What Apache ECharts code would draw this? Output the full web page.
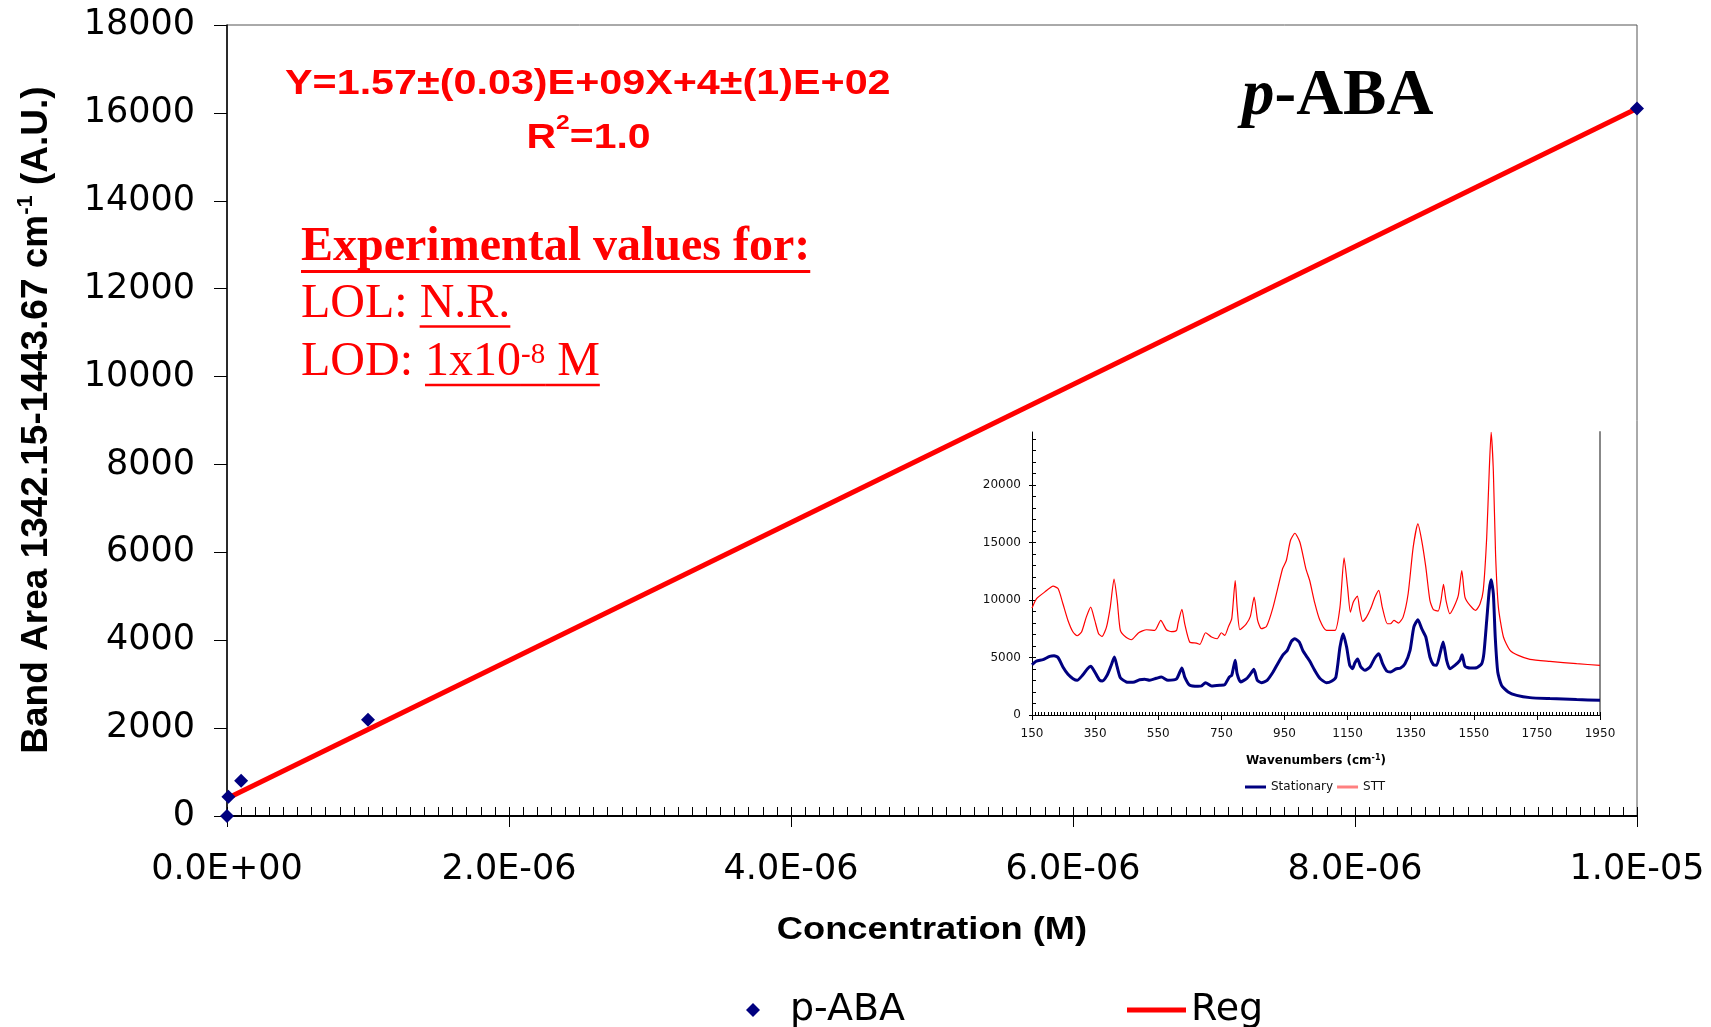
<!DOCTYPE html>
<html><head><meta charset="utf-8">
<script src="https://cdn.jsdelivr.net/npm/echarts@6/dist/echarts.min.js"></script>
<style>html,body{margin:0;padding:0;background:#fff}#c{width:1711px;height:1027px}</style>
</head><body><div id="c"></div>
<script>
// ---------- DATA ----------
const concentration = [0, 1e-8, 1e-7, 1e-6, 1e-5];
const bandArea = [0, 440, 800, 2190, 16100];
const regX = [0, 1e-5];
const regY = [400, 16100];

const insetXTicks = [150, 350, 550, 750, 950, 1150, 1350, 1550, 1750, 1950];
const insetYTicks = [0, 5000, 10000, 15000, 20000];

const stationaryWn = [150,164,185,206,220,233,248,264,280,293,310,326,336,349,363,373,388,401,411,420,430,449,470,491,507,523,544,560,581,608,625,634,650,676,687,700,719,745,761,775,783,794,800,811,830,843,853,864,877,895,914,930,946,959,972,983,997,1009,1020,1030,1046,1062,1083,1099,1113,1126,1136,1147,1157,1166,1173,1182,1191,1205,1221,1237,1249,1261,1274,1286,1303,1318,1332,1348,1360,1373,1385,1398,1411,1422,1432,1443,1453,1464,1474,1490,1506,1513,1522,1538,1559,1575,1582,1591,1599,1605,1612,1618,1626,1638,1659,1686,1728,1791,1876,1950];
const stationaryVal = [4370,4690,4810,5100,5155,4980,4170,3535,3160,3015,3450,4030,4230,3740,3070,2955,3450,4320,5040,4170,3245,2870,2840,3070,3100,3015,3190,3300,3015,3130,4090,3300,2580,2495,2520,2810,2520,2580,2640,3300,3450,4750,3590,2870,3160,3590,3970,3015,2810,3015,3740,4520,5240,5620,6400,6630,6340,5560,5100,4690,3880,3200,2810,2930,3300,5910,7065,5910,4320,4030,4520,4870,4230,3880,4170,4980,5330,4460,3825,3740,4000,4085,4460,5620,7640,8280,7500,6780,5040,4370,4320,5330,6340,4750,4030,4320,4750,5240,4230,4085,4110,4460,5330,8220,10830,11750,10540,6780,3740,2580,2000,1710,1510,1425,1340,1280];

const sttWn = [150,164,190,217,233,248,264,280,293,307,322,336,349,361,372,386,398,410,420,430,447,465,488,513,539,558,576,592,608,613,625,634,650,671,682,700,719,737,750,761,772,783,794,800,809,828,842,854,865,877,893,914,944,956,969,983,999,1018,1030,1046,1062,1083,1110,1126,1139,1150,1159,1168,1181,1189,1198,1210,1223,1237,1249,1260,1276,1286,1297,1311,1326,1342,1358,1373,1385,1398,1411,1422,1437,1446,1454,1462,1474,1487,1501,1512,1522,1538,1556,1570,1580,1591,1599,1605,1612,1619,1628,1644,1665,1691,1728,1791,1876,1950];
const sttVal = [9290,10100,10680,11200,10970,9670,8220,7210,6890,7210,8510,9380,8220,7065,6830,7640,9380,11810,9960,7350,6775,6540,7150,7410,7350,8220,7410,7240,7350,7990,9180,7930,6340,6255,6140,7150,6775,6630,7150,6920,7640,8370,11690,9380,7410,7875,8570,10250,8220,7500,7700,9380,12710,13430,15165,15800,15020,12710,11690,9740,8250,7350,7350,9380,13660,11110,8940,9810,10330,9090,8135,8510,9235,10250,10830,9380,7930,7930,8220,7990,8510,10540,14590,16610,15165,12850,9960,9150,9030,9960,11350,9960,8800,9380,10390,12560,10250,9520,9090,9670,10830,15455,21240,24570,21240,14010,9380,6780,5620,5180,4840,4660,4460,4320];

// ---------- helpers ----------
const ctx = document.createElement('canvas').getContext('2d');
function fontStr(p){ return (p.italic?'italic ':'') + (p.bold?'bold ':'') + p.size + 'px "' + p.family + '"'; }
function tw(p){ ctx.font = fontStr(p); return ctx.measureText(p.t).width; }
function textRun(o){
  const color = o.color || '#000';
  const widths = o.parts.map(tw);
  const total = widths.reduce((a,b)=>a+b,0);
  let cx = o.align === 'center' ? -total/2 : 0;
  const children = [];
  o.parts.forEach((p,i)=>{
    const f = fontStr(p);
    children.push({type:'text', x:cx, y:-(p.rise||0) - 0.34*p.size,
      style:{text:p.t, font:f, fill:color, align:'left', verticalAlign:'middle', textAlign:'left', textVerticalAlign:'middle'}});
    if (p.ul) children.push({type:'line', shape:{x1:cx, y1:o.ulY, x2:cx+widths[i], y2:o.ulY},
      style:{stroke:color, lineWidth:o.ulW||2.5}});
    cx += widths[i];
  });
  return {type:'group', x:o.x, y:o.y, scaleX:o.scaleX||1, rotation:o.rotation||0, children, silent:true};
}
function sciFmt(v){
  if (v === 0) return '0.0E+00';
  let e = Math.floor(Math.log10(Math.abs(v)) + 1e-9);
  let m = v / Math.pow(10, e);
  if (Math.round(m*10)/10 >= 10) { m /= 10; e += 1; }
  const es = (e < 0 ? '-' : '+') + String(Math.abs(e)).padStart(2,'0');
  return m.toFixed(1) + 'E' + es;
}
const plainFmt = v => String(Math.round(v));
const minorInsetX = []; for (let v = 150; v <= 1950; v += 10) minorInsetX.push(v);
const minorInsetY = []; for (let v = 0; v <= 24000; v += 1000) minorInsetY.push(v);

const SANS = 'Liberation Sans', SERIF = 'Liberation Serif', DJ = 'DejaVu Sans';
const RED = '#ff0000';

const graphics = [
  textRun({x:285, y:96.7, scaleX:1.18, color:RED, parts:[{t:'Y=1.57\u00b1(0.03)E+09X+4\u00b1(1)E+02', size:35, bold:true, family:SANS}]}),
  textRun({x:526.5, y:150, scaleX:1.17, color:RED, parts:[
    {t:'R', size:35, bold:true, family:SANS},
    {t:'2', size:21, bold:true, family:SANS, rise:20},
    {t:'=1.0', size:35, bold:true, family:SANS}]}),
  textRun({x:301, y:264, color:RED, ulY:7.5, ulW:3, parts:[{t:'Experimental values for:', size:48, bold:true, family:SERIF, ul:true}]}),
  textRun({x:301, y:321, color:RED, ulY:5.5, ulW:2.5, parts:[
    {t:'LOL: ', size:48, family:SERIF},
    {t:'N.R.', size:48, family:SERIF, ul:true}]}),
  textRun({x:301, y:379, color:RED, ulY:6, ulW:2.5, parts:[
    {t:'LOD: ', size:48, family:SERIF},
    {t:'1x10', size:48, family:SERIF, ul:true},
    {t:'-8', size:29, family:SERIF, rise:14, ul:true},
    {t:' M', size:48, family:SERIF, ul:true}]}),
  textRun({x:1242, y:119, parts:[
    {t:'p', size:65, bold:true, italic:true, family:SERIF},
    {t:'-ABA', size:65, bold:true, family:SERIF}]}),
  textRun({x:49, y:420, rotation:Math.PI/2, align:'center', parts:[
    {t:'Band Area 1342.15-1443.67 cm', size:37, bold:true, family:SANS},
    {t:'-1', size:22, bold:true, family:SANS, rise:16},
    {t:' (A.U.)', size:37, bold:true, family:SANS}]}),
  textRun({x:932, y:941, scaleX:1.17, align:'center', parts:[{t:'Concentration (M)', size:31, bold:true, family:SANS}]}),
  textRun({x:1316, y:765.4, align:'center', parts:[
    {t:'Wavenumbers (cm', size:12, bold:true, family:DJ},
    {t:'-1', size:8, bold:true, family:DJ, rise:5},
    {t:')', size:12, bold:true, family:DJ}]})
];

const chart = echarts.init(document.getElementById('c'), null, {renderer:'canvas'});
chart.setOption({
  animation:false,
  backgroundColor:'#ffffff',
  grid:[
    {left:227, top:25, width:1410, height:791, show:true, borderColor:'#555', borderWidth:1, backgroundColor:'transparent', outerBoundsMode:'none', containLabel:false},
    {left:1032, top:432, width:568, height:283, outerBoundsMode:'none', containLabel:false}
  ],
  xAxis:[
    {gridIndex:0, type:'value', min:0, max:1e-5, interval:2e-6, position:'bottom',
      axisLine:{show:true, onZero:false, lineStyle:{color:'#000', width:2}},
      axisTick:{show:true, length:11, lineStyle:{color:'#000', width:1}},
      axisLabel:{show:true, formatter:sciFmt, fontFamily:DJ, fontSize:35, color:'#000', margin:36},
      splitLine:{show:false}},
    {gridIndex:0, type:'value', min:0, max:1e-5, interval:1e-7, position:'bottom',
      axisLine:{show:false, onZero:false}, axisTick:{show:true, inside:true, length:9, lineStyle:{color:'#000', width:1}},
      axisLabel:{show:false}, splitLine:{show:false}},
    {gridIndex:1, type:'value', min:150, max:1950, position:'bottom',
      axisLine:{show:true, onZero:false, lineStyle:{color:'#000', width:1}},
      axisTick:{show:true, length:5, customValues:insetXTicks, lineStyle:{color:'#000'}},
      axisLabel:{show:true, customValues:insetXTicks, formatter:plainFmt, fontFamily:DJ, fontSize:12, color:'#111', margin:13},
      splitLine:{show:false}},
    {gridIndex:1, type:'value', min:150, max:1950, position:'bottom',
      axisLine:{show:false, onZero:false}, axisTick:{show:true, inside:true, length:3, customValues:minorInsetX, lineStyle:{color:'#000'}},
      axisLabel:{show:false}, splitLine:{show:false}}
  ],
  yAxis:[
    {gridIndex:0, type:'value', min:0, max:18000, interval:2000, position:'left',
      axisLine:{show:true, onZero:false, lineStyle:{color:'#000', width:1.5}},
      axisTick:{show:true, length:13, lineStyle:{color:'#000', width:1}},
      axisLabel:{show:true, formatter:plainFmt, fontFamily:DJ, fontSize:35, color:'#000', margin:32},
      splitLine:{show:false}},
    {gridIndex:1, type:'value', min:0, max:24600, position:'left',
      axisLine:{show:true, onZero:false, lineStyle:{color:'#000', width:1}},
      axisTick:{show:true, length:3, customValues:insetYTicks, lineStyle:{color:'#000'}},
      axisLabel:{show:true, customValues:insetYTicks, formatter:plainFmt, fontFamily:DJ, fontSize:12, color:'#111', margin:11},
      splitLine:{show:false}},
    {gridIndex:1, type:'value', min:0, max:24600, position:'left',
      axisLine:{show:false, onZero:false}, axisTick:{show:true, inside:true, length:4, customValues:minorInsetY, lineStyle:{color:'#000'}},
      axisLabel:{show:false}, splitLine:{show:false}},
    {gridIndex:1, type:'value', min:0, max:24600, position:'right',
      axisLine:{show:true, onZero:false, lineStyle:{color:'#888', width:2}}, axisTick:{show:false},
      axisLabel:{show:false}, splitLine:{show:false}}
  ],
  legend:[
    {data:[{name:'p-ABA', icon:'diamond'}], left:746, top:991, itemWidth:14, itemHeight:14, itemGap:0, padding:0,
      selectedMode:false, textStyle:{fontFamily:DJ, fontSize:38, color:'#000', padding:[0,0,0,25]}},
    {data:[{name:'Reg', icon:'rect'}], left:1127, top:991, itemWidth:59, itemHeight:5, itemGap:0, padding:0,
      selectedMode:false, textStyle:{fontFamily:DJ, fontSize:38, color:'#000'}},
    {data:[{name:'Stationary', icon:'rect', itemStyle:{color:'#000080'}}, {name:'STT', icon:'rect', itemStyle:{color:'#ff8080'}}],
      left:1245, top:781, itemWidth:21, itemHeight:3, itemGap:4, padding:0,
      selectedMode:false, textStyle:{fontFamily:DJ, fontSize:12, color:'#111'}}
  ],
  series:[
    {type:'line', name:'Reg', xAxisIndex:0, yAxisIndex:0, data:regX.map((x,i)=>[x, regY[i]]),
      symbol:'none', showSymbol:false, lineStyle:{color:RED, width:5}, itemStyle:{color:RED}, z:2, silent:true},
    {type:'scatter', name:'p-ABA', xAxisIndex:0, yAxisIndex:0, data:concentration.map((x,i)=>[x, bandArea[i]]),
      symbol:'diamond', symbolSize:14, itemStyle:{color:'#000080', opacity:1}, z:3, silent:true},
    {type:'line', name:'STT', xAxisIndex:2, yAxisIndex:1, data:sttWn.map((x,i)=>[x, sttVal[i]]),
      symbol:'none', showSymbol:false, smooth:0.2, lineStyle:{color:RED, width:1.2}, itemStyle:{color:RED}, z:2, silent:true},
    {type:'line', name:'Stationary', xAxisIndex:2, yAxisIndex:1, data:stationaryWn.map((x,i)=>[x, stationaryVal[i]]),
      symbol:'none', showSymbol:false, smooth:0.2, lineStyle:{color:'#000080', width:3}, itemStyle:{color:'#000080'}, z:2, silent:true}
  ],
  graphic:graphics
});
</script></body></html>
